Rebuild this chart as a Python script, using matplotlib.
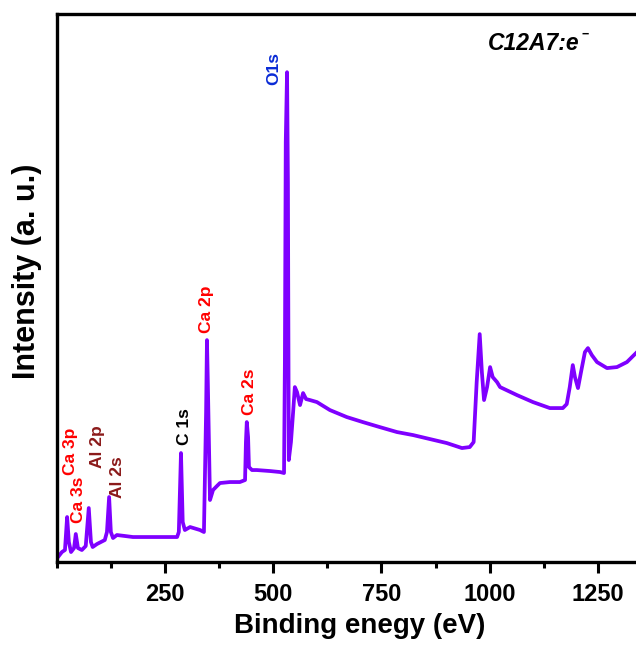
import matplotlib
matplotlib.use("Agg")
from matplotlib import pyplot as plt
from matplotlib.ticker import MultipleLocator

plt.rcParams['font.family'] = ['Liberation Sans', 'DejaVu Sans']
plt.rcParams['font.weight'] = 'bold'

# survey spectrum (binding energy in eV, intensity in a.u.)
energy = [3, 12, 19, 24, 28, 33, 40, 44, 49, 58, 67, 74, 79, 83, 93, 102, 111, 116,
          121, 125, 130, 139, 158, 176, 215, 250, 278, 282, 287, 291, 296, 308, 331,
          340, 345, 347, 349, 354, 361, 370, 377, 400, 423, 435, 437, 439, 442, 444,
          451, 462, 493, 516, 525, 527, 529, 532, 534, 536, 541, 546, 550, 555, 562,
          569, 576, 585, 601, 631, 670, 707, 746, 786, 823, 862, 901, 936, 954, 963,
          970, 977, 982, 987, 994, 1001, 1007, 1017, 1024, 1063, 1100, 1139, 1169,
          1178, 1185, 1192, 1197, 1204, 1211, 1220, 1227, 1236, 1248, 1271, 1294,
          1317, 1338]
intensity = [5, 10, 12, 45, 20, 10, 14, 28, 14, 12, 16, 54, 20, 15, 18, 20, 22, 30,
             65, 30, 24, 27, 26, 25, 25, 25, 25, 30, 109, 40, 32, 35, 32,
             30, 150, 222, 180, 62, 72, 76, 79, 80, 80, 82, 120, 140, 125, 95,
             92, 92, 91, 90, 89, 200, 420, 490, 380, 102, 120, 150, 175, 170, 157,
             169, 163, 162, 160, 152, 145, 140, 135, 130, 127, 123, 119, 114, 115,
             120, 180, 228, 190, 162, 175, 195, 185, 180, 175, 167, 160, 154, 154,
             158, 175, 197, 185, 174, 190, 210, 214, 207, 200, 194, 195, 200, 209]

# peak labels: text, x (eV), y (a.u.), colour
peak_names = ['Ca 3p', 'Ca 3s', 'Al 2p', 'Al 2s', 'C 1s', 'Ca 2p', 'Ca 2s', 'O1s']
peak_x = [31, 51, 95, 141, 296, 347, 446, 501]
peak_y = [87, 39, 94, 64, 117, 229, 147, 477]
peak_colors = ['red', 'red', '#8b1a1a', '#8b1a1a', 'black', 'red', 'red', '#0a2bd6']

fig = plt.figure(figsize=(6.36, 6.46), dpi=100)
ax = fig.add_axes([0.0892, 0.130, 0.953, 0.848])

ax.plot(energy, intensity, color='#7f00ff', lw=2.7)

for name, x, y, c in zip(peak_names, peak_x, peak_y, peak_colors):
    ax.text(x, y, name, rotation=90, ha='center', va='bottom', color=c,
            fontsize=12.5, fontweight='bold')

ax.text(0.711, 0.947, 'C12A7:e', transform=ax.transAxes, fontsize=16.5,
        fontweight='bold', fontstyle='italic', ha='left', va='center')
ax.text(0.866, 0.962, '\u2212', transform=ax.transAxes, fontsize=9,
        fontweight='bold', ha='left', va='center')

ax.set_xlim(0, 1400)
ax.set_ylim(0, 548)
ax.set_xticks([250, 500, 750, 1000, 1250])
ax.xaxis.set_minor_locator(MultipleLocator(125))
ax.set_yticks([])
ax.tick_params(axis='x', which='major', direction='out', length=8, width=2.2,
               labelsize=17, pad=7)
ax.tick_params(axis='x', which='minor', direction='out', length=4.5, width=2.2)
for s in ax.spines.values():
    s.set_linewidth(2.4)

ax.set_xlabel('Binding enegy (eV)', fontsize=20, fontweight='bold', labelpad=5)
ax.set_ylabel('Intensity (a. u.)', fontsize=22, fontweight='bold')
ax.yaxis.set_label_coords(-0.025, 0.531)

fig.savefig('out.png', dpi=100)
